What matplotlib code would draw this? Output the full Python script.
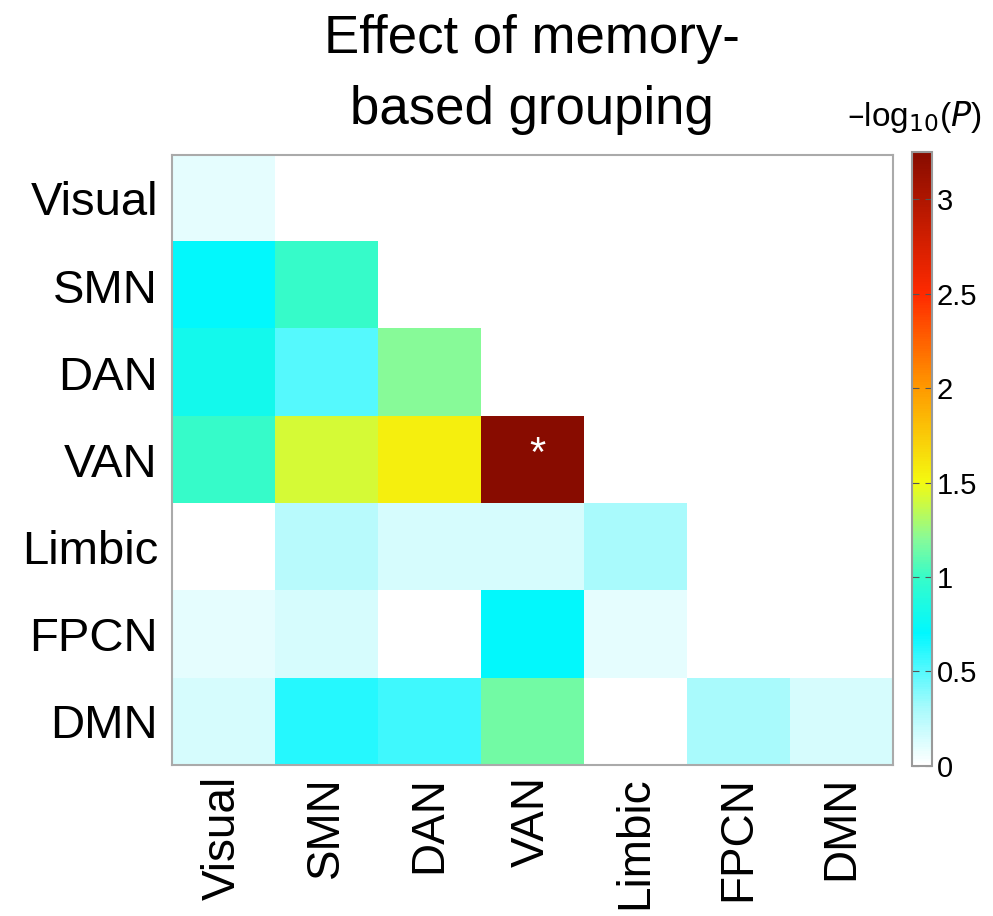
import numpy as np
import matplotlib
matplotlib.use("Agg")
import matplotlib.pyplot as plt
from matplotlib.colors import LinearSegmentedColormap

plt.rcParams['font.family'] = ['Liberation Sans', 'DejaVu Sans']

networks = ["Visual", "SMN", "DAN", "VAN", "Limbic", "FPCN", "DMN"]
# lower-triangular -log10(P) values, row by row
row_visual = [0.10]
row_smn = [0.72, 1.00]
row_dan = [0.80, 0.50, 1.20]
row_van = [1.00, 1.42, 1.55, 3.25]
row_limbic = [0.00, 0.25, 0.15, 0.15, 0.30]
row_fpcn = [0.10, 0.15, 0.00, 0.72, 0.10]
row_dmn = [0.15, 0.62, 0.55, 1.15, 0.00, 0.30, 0.15]
rows = [row_visual, row_smn, row_dan, row_van, row_limbic, row_fpcn, row_dmn]
significant = [("VAN", "VAN")]
vmax = 3.25
cbar_ticks = [0, 0.5, 1, 1.5, 2, 2.5, 3]

n = len(networks)
M = np.full((n, n), np.nan)
for i, r in enumerate(rows):
    M[i, :len(r)] = r

stops = [(0.0, "#ffffff"), (0.3, "#a8fafc"), (0.7, "#00f8ff"), (1.0, "#38fcc8"),
         (1.2, "#88fa98"), (1.5, "#f4fa10"), (2.0, "#ff9a00"), (2.5, "#ff2a00"),
         (3.25, "#880c00")]
cmap = LinearSegmentedColormap.from_list("mem", [(v / vmax, c) for v, c in stops])
cmap.set_bad("white")

fig = plt.figure(figsize=(9.93, 9.16), dpi=100)
ax = fig.add_axes([0.173, 0.165, 0.726, 0.666])
im = ax.imshow(np.ma.masked_invalid(M), cmap=cmap, vmin=0, vmax=vmax,
               aspect="auto", interpolation="nearest")
for a, b in significant:
    i, j = networks.index(a), networks.index(b)
    ax.text(j + 0.05, i - 0.05, "*", color="white", fontsize=30,
            ha="center", va="center")

ax.set_xticks(range(n))
ax.set_yticks(range(n))
ax.set_xticklabels(networks, rotation=90, fontsize=33)
ax.set_yticklabels(networks, fontsize=34)
ax.tick_params(axis="x", length=0, pad=8)
ax.tick_params(axis="y", length=0, pad=10)
for s in ax.spines.values():
    s.set_color("#aaaaaa")
    s.set_linewidth(1.5)

cax = fig.add_axes([0.918, 0.164, 0.021, 0.670])
cb = fig.colorbar(im, cax=cax, ticks=cbar_ticks)
cb.ax.set_yticklabels([f"{t:g}" for t in cbar_ticks])
cb.ax.tick_params(labelsize=21, direction="in", length=5, color="#555555",
                  right=True, left=True, pad=3)
cb.outline.set_edgecolor("#999999")
cb.outline.set_linewidth(1.5)

fig.text(0.921, 1 - 126 / 916, "\u2013log$_{10}$($P$)", fontsize=24,
         ha="center", va="baseline")
fig.text(0.536, 0.985, "Effect of memory-\nbased grouping", fontsize=38,
         ha="center", va="top", linespacing=1.55)

fig.savefig("out.png", dpi=100)
